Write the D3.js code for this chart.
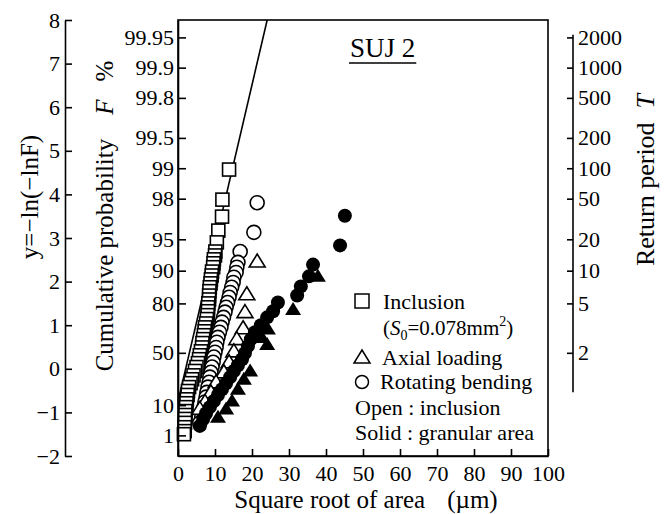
<!DOCTYPE html>
<html>
<head>
<meta charset="utf-8">
<script src="https://cdnjs.cloudflare.com/ajax/libs/d3/7.8.5/d3.min.js"></script>
<style>
body { margin: 0; background: #fff; }
svg, svg text { font-family: "Liberation Serif", "DejaVu Serif", serif; }
</style>
</head>
<body>
<svg></svg>
<script>
// values: [sqrt(area) um, reduced variate y]
var inclusionPts = [
  [13.8,4.57],[12.0,3.88],[11.9,3.49],[10.9,3.17],[10.5,2.90],
  [10.1,2.69],[10.0,2.60],[9.7,2.51],[9.6,2.42],[9.5,2.33],[9.2,2.23],[9.1,2.14],
  [8.9,2.05],[8.8,1.96],[8.6,1.87],[8.5,1.78],[8.4,1.68],[8.4,1.59],[8.2,1.50],
  [8.1,1.41],[8.1,1.32],[8.0,1.23],[7.8,1.14],[7.6,1.04],[7.3,0.95],[7.2,0.86],
  [7.0,0.77],[6.8,0.68],[6.6,0.59],[6.5,0.49],[6.2,0.40],[5.9,0.31],[5.7,0.22],
  [5.4,0.13],[5.0,0.04],[4.6,-0.05],[4.2,-0.15],[3.8,-0.24],[3.4,-0.33],[3.0,-0.42],
  [2.7,-0.51],[2.6,-0.60],[2.4,-0.70],[2.3,-0.79],[2.2,-0.88],[2.0,-0.97],[2.0,-1.06],
  [1.9,-1.15],[1.9,-1.24],[1.8,-1.34],[1.8,-1.43],[1.6,-1.50]
];
var rotInclusionPts = [
  [21.4,3.81],[20.5,3.13],[16.8,2.69],[16.2,2.44],[15.9,2.33],[15.7,2.21],[15.1,2.10],
  [14.9,1.98],[14.5,1.87],[14.1,1.75],[13.8,1.64],[13.4,1.52],[13.0,1.41],[12.7,1.30],
  [12.3,1.18],[11.9,1.07],[11.6,0.95],[11.2,0.84],[10.8,0.72],[10.5,0.61],[10.3,0.49],
  [10.0,0.38],[9.7,0.27],[9.5,0.15],[9.2,0.04],[8.9,-0.08],[8.6,-0.19],[8.4,-0.31],
  [8.1,-0.42],[7.8,-0.54],[7.6,-0.65],[7.3,-0.76],[7.0,-0.88],[6.8,-0.99],[6.4,-1.11],
  [5.9,-1.24]
];
var axialInclusionPts = [
  [21.4,2.46],[18.6,1.71],[18.1,1.30],[17.6,0.93],[15.9,0.68],[15.1,0.40],[13.8,0.15],
  [12.4,-0.08],[10.3,-0.31],[8.9,-0.54],[7.3,-0.76],[5.9,-0.92]
];
var rotGranularPts = [
  [45.1,3.51],[43.8,2.83],[36.5,2.39],[35.4,2.12],[33.2,1.89],[32.2,1.68],[27.0,1.52],
  [25.7,1.32],[24.1,1.18],[22.4,1.00],[20.8,0.84],[19.7,0.68],[18.9,0.52],[18.1,0.36],
  [17.3,0.22],[16.2,0.08],[15.1,-0.05],[14.1,-0.19],[13.0,-0.33],[11.9,-0.47],[10.8,-0.60],
  [9.7,-0.74],[8.6,-0.88],[7.6,-1.02],[6.8,-1.15],[5.9,-1.31]
];
var axialGranularPts = [
  [37.8,2.12],[31.1,1.36],[24.3,0.91],[24.1,0.56],[22.7,0.72],[19.5,-0.05],[17.8,-0.24],
  [16.2,-0.47],[14.6,-0.74],[13.0,-0.92],[10.8,-1.11]
];
var fitLine = [[0,-0.75],[24.1,8]];

// tick labels
var xTicks = [0,10,20,30,40,50,60,70,80,90,100];
var yTicks = [-2,-1,0,1,2,3,4,5,6,7,8];
var probTicks = [99.95,99.9,99.8,99.5,99,98,95,90,80,50,10,1];
var returnTicks = [2000,1000,500,200,100,50,20,10,5,2];
var returnAxisExtent = [7.66,-0.54];

var gumbel = function(F) { return -Math.log(-Math.log(F)); };
var serif = "'Liberation Serif', 'DejaVu Serif', serif";

var svg = d3.select("svg").attr("width", 671).attr("height", 514)
  .attr("font-family", serif);

var x = d3.scaleLinear().domain([0,100]).range([178,548]);
var y = d3.scaleLinear().domain([-2,8]).range([456,20]);

// plot frame
svg.append("rect")
  .attr("x", x(0)).attr("y", y(8))
  .attr("width", x(100)-x(0)).attr("height", y(-2)-y(8))
  .attr("fill","none").attr("stroke","#000").attr("stroke-width",1.6);

svg.append("clipPath").attr("id","plotclip")
  .append("rect")
  .attr("x", x(0)).attr("y", y(8))
  .attr("width", x(100)-x(0)).attr("height", y(-2)-y(8));

// fitted line
svg.append("path")
  .datum(fitLine)
  .attr("clip-path","url(#plotclip)")
  .attr("d", d3.line().x(function(d){return x(d[0]);}).y(function(d){return y(d[1]);}))
  .attr("fill","none").attr("stroke","#000").attr("stroke-width",1.6);

var tri = "M0,-7.5L8,5.5L-8,5.5Z";

// markers
var g = svg.append("g");
g.selectAll(".sq").data(inclusionPts).enter().append("rect")
  .attr("x", function(d){return x(d[0])-6.5;})
  .attr("y", function(d){return y(d[1])-6.5;})
  .attr("width",13).attr("height",13)
  .attr("fill","#fff").attr("stroke","#000").attr("stroke-width",1.6);

g.selectAll(".oc").data(rotInclusionPts).enter().append("circle")
  .attr("cx", function(d){return x(d[0]);})
  .attr("cy", function(d){return y(d[1]);})
  .attr("r",7)
  .attr("fill","#fff").attr("stroke","#000").attr("stroke-width",1.6);

g.selectAll(".ot").data(axialInclusionPts).enter().append("path")
  .attr("transform", function(d){return "translate("+x(d[0])+","+y(d[1])+")";})
  .attr("d", tri)
  .attr("fill","#fff").attr("stroke","#000").attr("stroke-width",1.6);

g.selectAll(".ft").data(axialGranularPts).enter().append("path")
  .attr("transform", function(d){return "translate("+x(d[0])+","+y(d[1])+")";})
  .attr("d", tri)
  .attr("fill","#000");

g.selectAll(".fc").data(rotGranularPts).enter().append("circle")
  .attr("cx", function(d){return x(d[0]);})
  .attr("cy", function(d){return y(d[1]);})
  .attr("r",7)
  .attr("fill","#000");

// axes
var styleAxis = function(sel) {
  sel.attr("font-family", serif).attr("font-size", 22);
  sel.selectAll("path,line").attr("stroke","#000").attr("stroke-width",1.6);
  sel.selectAll("text").attr("fill","#000");
};
var minus = function(d) { return d < 0 ? "\u2212" + Math.abs(d) : d; };

svg.append("g").attr("transform","translate(65,0)")
  .call(d3.axisLeft(y).tickValues(yTicks).tickFormat(minus)
    .tickSizeInner(-7).tickSizeOuter(0).tickPadding(5))
  .call(styleAxis);

svg.append("g").attr("transform","translate("+x(0)+",0)")
  .call(d3.axisLeft(y).tickValues(probTicks.map(function(p){return gumbel(p/100);}))
    .tickFormat(function(d,i){return probTicks[i];})
    .tickSizeInner(-8).tickSizeOuter(0).tickPadding(4))
  .call(styleAxis);

svg.append("g").attr("transform","translate(0,"+y(-2)+")")
  .call(d3.axisBottom(x).tickValues(xTicks)
    .tickSizeInner(-7).tickSizeOuter(0).tickPadding(9))
  .call(styleAxis);

var rAxis = svg.append("g").attr("transform","translate(573,0)")
  .call(d3.axisRight(y).tickValues(returnTicks.map(function(t){return gumbel(1-1/t);}))
    .tickFormat(function(d,i){return returnTicks[i];})
    .tickSizeInner(-6).tickSizeOuter(0).tickPadding(5))
  .call(styleAxis);
rAxis.select(".domain").remove();
rAxis.append("line")
  .attr("y1", y(returnAxisExtent[0])).attr("y2", y(returnAxisExtent[1]))
  .attr("stroke","#000").attr("stroke-width",1.6);

// axis titles
svg.append("text").attr("transform","translate(38,197) rotate(-90)")
  .attr("text-anchor","middle").attr("font-size",25).text("y=\u2212ln(\u2212lnF)");

var cum = svg.append("text").attr("transform","translate(113,216) rotate(-90)")
  .attr("text-anchor","middle").attr("font-size",25);
cum.append("tspan").text("Cumulative probability");
cum.append("tspan").attr("dx",24).attr("font-style","italic").text("F");
cum.append("tspan").attr("dx",18).text("%");

var ret = svg.append("text").attr("transform","translate(654,180) rotate(-90)")
  .attr("text-anchor","middle").attr("font-size",26);
ret.append("tspan").text("Return period");
ret.append("tspan").attr("dx",14).attr("font-style","italic").text("T");

var xt = svg.append("text").attr("x",366).attr("y",508)
  .attr("text-anchor","middle").attr("font-size",25);
xt.append("tspan").text("Square root of area");
xt.append("tspan").attr("dx",22).text("(\u00b5m)");

// title
var title = svg.append("text").attr("x",350).attr("y",57)
  .attr("font-size",27).text("SUJ 2");
var tw = title.node().getComputedTextLength();
svg.append("line").attr("x1",349).attr("x2",351+tw)
  .attr("y1",63).attr("y2",63).attr("stroke","#000").attr("stroke-width",1.5);

// legend
var lg = svg.append("g").attr("font-size",22);
lg.append("rect").attr("x",355).attr("y",294).attr("width",14).attr("height",14)
  .attr("fill","#fff").attr("stroke","#000").attr("stroke-width",1.5);
lg.append("text").attr("x",383).attr("y",309).text("Inclusion");
var s0 = lg.append("text").attr("x",383).attr("y",335).attr("font-size",21);
s0.append("tspan").text("(");
s0.append("tspan").attr("font-style","italic").text("S");
s0.append("tspan").attr("font-size",14).attr("dy",5).text("0");
s0.append("tspan").attr("dy",-5).text("=0.078mm");
s0.append("tspan").attr("font-size",14).attr("dy",-9).text("2");
s0.append("tspan").attr("dy",9).text(")");
lg.append("path").attr("transform","translate(362,357)").attr("d","M0,-7L8,6L-8,6Z")
  .attr("fill","#fff").attr("stroke","#000").attr("stroke-width",1.5);
lg.append("text").attr("x",382).attr("y",365).text("Axial loading");
lg.append("circle").attr("cx",362).attr("cy",382).attr("r",6.5)
  .attr("fill","#fff").attr("stroke","#000").attr("stroke-width",1.5);
lg.append("text").attr("x",380).attr("y",389).text("Rotating bending");
lg.append("text").attr("x",355).attr("y",415).text("Open : inclusion");
lg.append("text").attr("x",355).attr("y",440).text("Solid : granular area");
</script>
</body>
</html>
